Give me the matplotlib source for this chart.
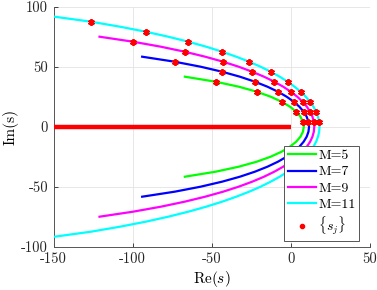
import matplotlib
matplotlib.use("Agg")
import matplotlib.pyplot as plt
from matplotlib.lines import Line2D

plt.rcParams["font.family"] = ["cmr10", "DejaVu Serif"]
plt.rcParams["mathtext.fontset"] = "cm"
plt.rcParams["axes.unicode_minus"] = False

# Im(s) levels of the contour points (upper half)
im_levels = [0, 4.17, 8.33, 12.5, 16.67, 20.83, 25.0, 29.17, 33.33, 37.5, 41.67,
             45.83, 50.0, 54.17, 58.33, 62.5, 66.67, 70.83, 75.0, 79.17, 83.33,
             87.5, 91.67]

# Re(s) of each contour at those levels
re_m5 = [8.30, 7.77, 6.18, 3.47, -0.46, -5.77, -12.67, -21.51, -32.84, -47.51, -67.0]
re_m7 = [11.62, 11.25, 10.12, 8.21, 5.50, 1.93, -2.56, -8.07, -14.72, -22.67,
         -32.15, -43.45, -57.03, -73.48, -94.0]
re_m9 = [14.94, 14.65, 13.77, 12.30, 10.22, 7.51, 4.14, 0.06, -4.75, -10.38,
         -16.89, -24.38, -32.97, -42.81, -54.13, -67.14, -82.21, -99.80, -121.0]
re_m11 = [18.26, 18.02, 17.30, 16.10, 14.42, 12.22, 9.52, 6.28, 2.46, -1.94,
          -6.94, -12.68, -19.07, -26.32, -34.46, -43.43, -53.52, -64.82, -77.51,
          -91.81, -108.02, -126.41, -149.5]

curves = [("M=5", re_m5, "#00ff00"),
          ("M=7", re_m7, "#0000ff"),
          ("M=9", re_m9, "#ff00ff"),
          ("M=11", re_m11, "#00ffff")]

# branch cut on the negative real axis
cut_re = [-150, 0]
cut_im = [0, 0]

xticks = [-150, -100, -50, 0, 50]
yticks = [-100, -50, 0, 50, 100]

fig = plt.figure(figsize=(3.77, 2.90), dpi=100)
ax = fig.add_axes([0.1424, 0.1493, 0.8382, 0.8276])

handles = []
for label, re, color in curves:
    im = im_levels[:len(re)]
    x = re[::-1] + re[1:]
    y = [-v for v in im[::-1]] + im[1:]
    h, = ax.plot(x, y, color=color, lw=1.6, label=label, zorder=3)
    handles.append(h)

ax.plot(cut_re, cut_im, color="red", lw=3.2, solid_capstyle="butt", zorder=3)

for label, re, color in curves:
    im = im_levels[:len(re)]
    ax.plot(re[1::2], im[1::2], ls="none", marker=(6, 2, 0), ms=4.8, mew=1.4,
            color="red", zorder=4)

handles.append(Line2D([], [], ls="none", marker="o", ms=3, color="red",
                      label=r"$\{s_j\}$"))

ax.set_xlim(-150, 50)
ax.set_ylim(-100, 100)
ax.set_xticks(xticks)
ax.set_yticks(yticks)
ax.set_xticklabels([str(v) for v in xticks])
ax.set_yticklabels([str(v) for v in yticks])
ax.tick_params(direction="in", length=3, width=0.6, labelsize=10.5,
               colors="#262626", pad=4)
ax.grid(True, color="#e3e3e3", lw=0.6)
ax.set_axisbelow(True)
for side in ["top", "right"]:
    ax.spines[side].set_visible(False)
for side in ["left", "bottom"]:
    ax.spines[side].set_color("#555555")
    ax.spines[side].set_linewidth(0.7)

ax.set_xlabel("Re($s$)", fontsize=11, labelpad=2)
ax.set_ylabel("Im(s)", fontsize=11, labelpad=2)

leg = ax.legend(handles=handles, loc="upper left", bbox_to_anchor=(0.7297, 0.4196),
                fontsize=10, handlelength=2.0, handletextpad=0.2,
                labelspacing=0.25, borderpad=0.25, borderaxespad=0,
                fancybox=False, framealpha=1)
leg.get_frame().set_edgecolor("#555555")
leg.get_frame().set_linewidth(0.7)

fig.savefig("out.png", dpi=100)
